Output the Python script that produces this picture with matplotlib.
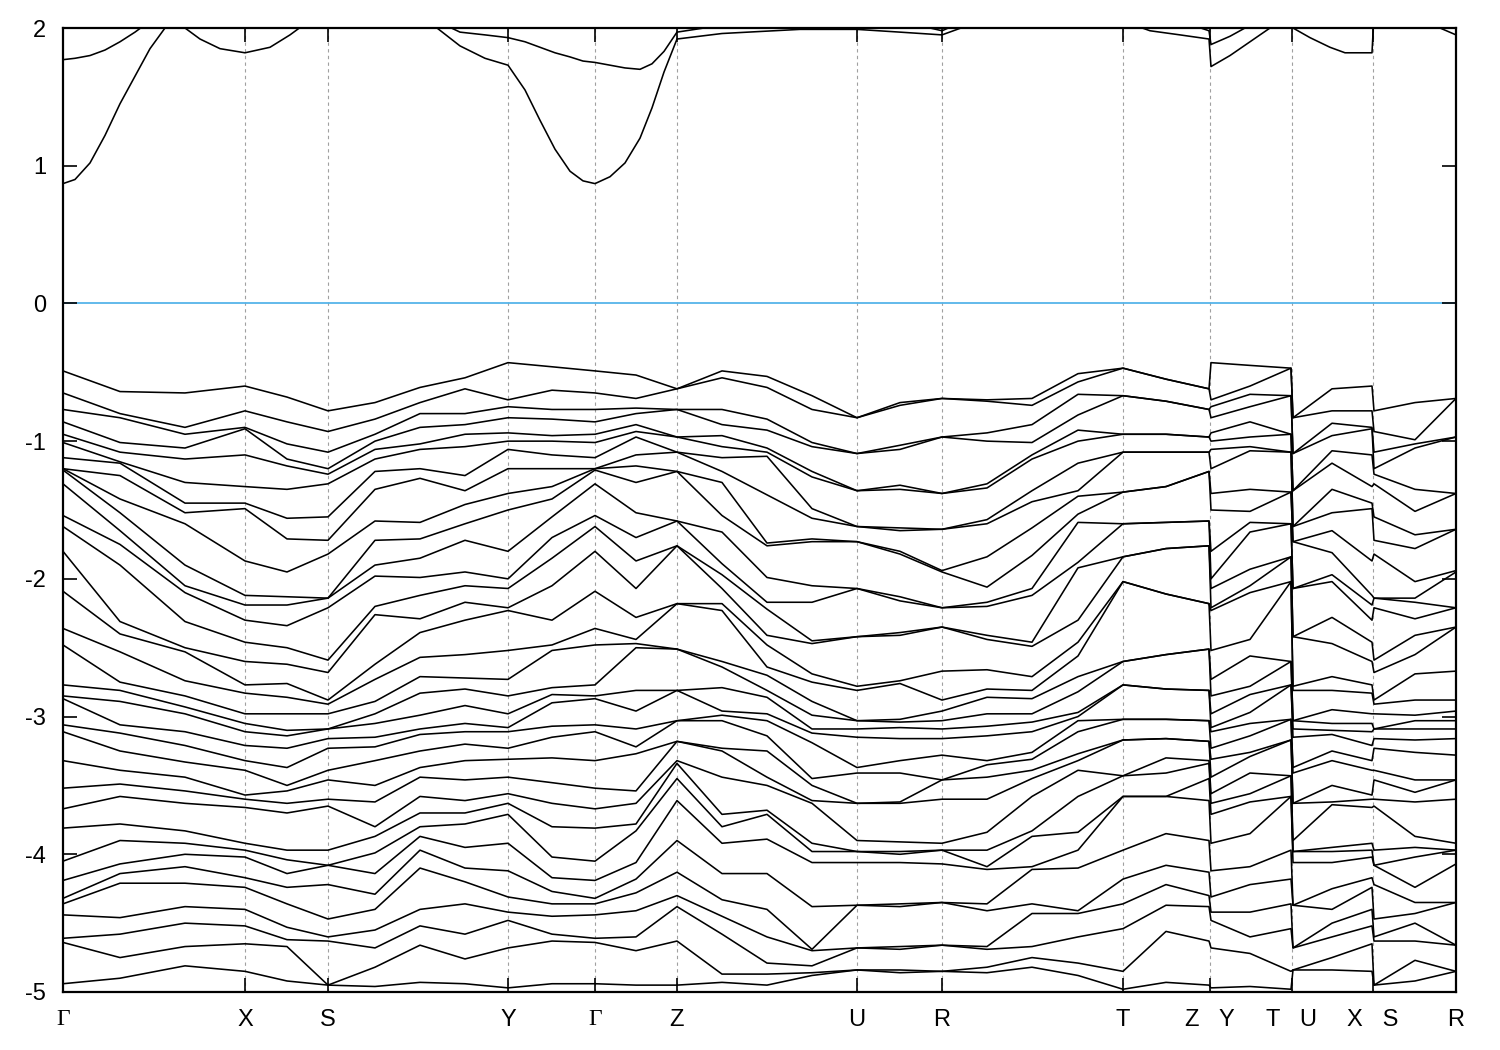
import numpy as np
import matplotlib
matplotlib.use("Agg")
import matplotlib.pyplot as plt

plt.rcParams['font.family'] = ['Liberation Sans', 'DejaVu Sans']
plt.rcParams['axes.unicode_minus'] = False

# high symmetry points along the path (same units as k below)
hs_k = [0, 182, 265, 445, 532, 614, 794, 879, 1060, 1147, 1229, 1310, 1393]
hs_lab = ['Γ', 'X', 'S', 'Y', 'Γ', 'Z', 'U', 'R', 'T', 'Z   Y', 'T   U', 'X   S', 'R']

# valence bands, energies (eV) read at sample points along the path
e_G = [-0.49, -0.65, -0.77, -0.86, -0.95, -1.01, -1.12, -1.20, -1.20, -1.21, -1.31, -1.54, -1.62, -1.80, -2.09, -2.36, -2.48,
       -2.77, -2.85, -2.87, -3.06, -3.11, -3.32, -3.52, -3.67, -3.81, -4.05, -4.19, -4.32, -4.36, -4.44, -4.61, -4.64, -4.94]
e_gx1 = [-0.64, -0.80, -0.83, -1.01, -1.08, -1.15, -1.16, -1.25, -1.42, -1.52, -1.65, -1.75, -1.90, -2.31, -2.40, -2.53,
         -2.75, -2.81, -2.89, -3.06, -3.12, -3.25, -3.39, -3.49, -3.58, -3.78, -3.90, -4.07, -4.14, -4.21, -4.46, -4.58, -4.75, -4.90]
e_gx2 = [-0.65, -0.90, -0.95, -1.05, -1.13, -1.30, -1.45, -1.52, -1.60, -1.90, -2.05, -2.10, -2.31, -2.50, -2.53,
         -2.74, -2.85, -2.93, -2.98, -3.11, -3.21, -3.33, -3.44, -3.54, -3.63, -3.83, -3.92, -4.00, -4.09, -4.21, -4.38, -4.50, -4.67, -4.81]
e_X = [-0.60, -0.78, -0.90, -0.91, -1.10, -1.33, -1.45, -1.49, -1.87, -2.12, -2.19, -2.30, -2.46, -2.60,
       -2.77, -2.83, -2.98, -3.05, -3.11, -3.21, -3.32, -3.39, -3.57, -3.60, -3.66, -3.92, -3.97, -4.02, -4.17, -4.24, -4.40, -4.52, -4.65, -4.85]
e_xs = [-0.68, -0.86, -1.02, -1.13, -1.18, -1.35, -1.56, -1.71, -1.95, -2.13, -2.19, -2.34, -2.50, -2.62,
        -2.76, -2.86, -2.98, -3.10, -3.14, -3.23, -3.37, -3.50, -3.54, -3.63, -3.70, -3.97, -4.04, -4.14, -4.24, -4.36, -4.53, -4.62, -4.67, -4.92]
e_S = [-0.78, -0.93, -1.08, -1.20, -1.24, -1.31, -1.55, -1.72, -1.82, -2.14, -2.14, -2.21, -2.59, -2.68,
       -2.88, -2.91, -2.98, -3.09, -3.09, -3.16, -3.23, -3.39, -3.46, -3.60, -3.65, -3.97, -4.08, -4.08, -4.22, -4.47, -4.60, -4.63, -4.95, -4.95]
e_sy1 = [-0.72, -0.84, -0.95, -1.00, -1.06, -1.13, -1.22, -1.35, -1.58, -1.72, -1.90, -1.98, -2.20, -2.26, -2.62,
         -2.73, -2.89, -2.98, -3.05, -3.15, -3.22, -3.32, -3.50, -3.62, -3.80, -3.87, -3.99, -4.14, -4.29, -4.40, -4.55, -4.68, -4.82, -4.96]
e_sy2 = [-0.61, -0.72, -0.80, -0.90, -1.02, -1.06, -1.20, -1.27, -1.59, -1.71, -1.85, -1.99, -2.12, -2.29, -2.39, -2.57,
         -2.71, -2.83, -2.99, -3.09, -3.13, -3.25, -3.37, -3.44, -3.58, -3.70, -3.80, -3.87, -3.97, -4.10, -4.40, -4.52, -4.66, -4.93]
e_sy3 = [-0.54, -0.62, -0.80, -0.88, -0.95, -1.04, -1.25, -1.36, -1.46, -1.60, -1.72, -1.95, -2.05, -2.17, -2.30, -2.55,
         -2.72, -2.80, -2.92, -3.05, -3.11, -3.20, -3.32, -3.46, -3.61, -3.70, -3.78, -3.95, -4.10, -4.20, -4.36, -4.58, -4.76, -4.94]
e_Y = [-0.43, -0.70, -0.75, -0.83, -0.94, -1.00, -1.06, -1.20, -1.38, -1.50, -1.80, -2.00, -2.07, -2.21, -2.23, -2.52,
       -2.73, -2.85, -2.98, -3.08, -3.11, -3.23, -3.31, -3.44, -3.56, -3.63, -3.71, -3.92, -4.12, -4.31, -4.42, -4.48, -4.68, -4.97]
e_yg = [-0.46, -0.63, -0.77, -0.84, -0.96, -1.00, -1.10, -1.20, -1.33, -1.42, -1.55, -1.70, -1.85, -2.05, -2.30, -2.48, -2.52,
        -2.79, -2.84, -2.90, -3.07, -3.15, -3.30, -3.48, -3.63, -3.80, -4.02, -4.17, -4.27, -4.36, -4.45, -4.58, -4.63, -4.94]
e_gz = [-0.52, -0.69, -0.76, -0.80, -0.88, -0.93, -0.97, -1.10, -1.18, -1.30, -1.52, -1.70, -1.87, -2.07, -2.28, -2.44, -2.47, -2.50,
        -2.81, -2.96, -3.09, -3.22, -3.27, -3.54, -3.63, -3.78, -3.83, -4.06, -4.18, -4.28, -4.41, -4.60, -4.70, -4.95]
e_Z = [-0.62, -0.62, -0.77, -0.77, -0.97, -0.97, -1.08, -1.08, -1.22, -1.22, -1.58, -1.58, -1.76, -1.76, -2.18, -2.18, -2.51, -2.51,
       -2.81, -2.81, -3.03, -3.03, -3.18, -3.18, -3.32, -3.34, -3.45, -3.61, -3.90, -4.13, -4.30, -4.38, -4.63, -4.95]
e_zu1 = [-0.49, -0.54, -0.77, -0.88, -0.96, -1.04, -1.12, -1.22, -1.30, -1.54, -1.66, -1.89, -1.97, -2.07, -2.18, -2.23, -2.60, -2.64,
         -2.79, -2.96, -2.99, -3.03, -3.23, -3.25, -3.44, -3.71, -3.80, -3.92, -4.14, -4.33, -4.45, -4.58, -4.87, -4.93]
e_zu2 = [-0.53, -0.61, -0.84, -0.92, -1.05, -1.08, -1.11, -1.39, -1.74, -1.76, -1.99, -2.17, -2.22, -2.41, -2.48, -2.64,
         -2.70, -2.81, -2.86, -2.98, -3.03, -3.14, -3.25, -3.44, -3.50, -3.68, -3.71, -3.89, -4.14, -4.40, -4.60, -4.79, -4.87, -4.95]
e_zu3 = [-0.67, -0.77, -1.01, -1.04, -1.22, -1.26, -1.49, -1.56, -1.71, -1.73, -2.05, -2.17, -2.45, -2.47,
         -2.69, -2.75, -2.89, -2.99, -3.09, -3.12, -3.19, -3.45, -3.50, -3.61, -3.63, -3.92, -3.98, -4.06, -4.38, -4.69, -4.70, -4.81, -4.86, -4.88]
e_U = [-0.83, -0.83, -1.09, -1.09, -1.36, -1.36, -1.62, -1.62, -1.73, -1.73, -2.07, -2.07, -2.42, -2.42,
       -2.78, -2.81, -3.03, -3.03, -3.09, -3.15, -3.37, -3.41, -3.63, -3.63, -3.90, -3.98, -3.98, -4.06, -4.37, -4.37, -4.68, -4.68, -4.84, -4.84]
e_ur = [-0.72, -0.74, -1.03, -1.06, -1.32, -1.35, -1.63, -1.65, -1.80, -1.82, -2.13, -2.16, -2.39, -2.41,
        -2.74, -2.76, -3.02, -3.04, -3.08, -3.16, -3.32, -3.41, -3.62, -3.63, -3.91, -3.98, -4.00, -4.06, -4.36, -4.38, -4.67, -4.69, -4.84, -4.86]
e_R = [-0.69, -0.69, -0.97, -0.97, -1.38, -1.38, -1.64, -1.64, -1.94, -1.95, -2.21, -2.21, -2.35, -2.35,
       -2.67, -2.88, -2.96, -3.03, -3.09, -3.16, -3.28, -3.46, -3.46, -3.60, -3.92, -3.97, -3.97, -4.07, -4.35, -4.35, -4.66, -4.66, -4.85, -4.85]
e_rt1 = [-0.70, -0.71, -0.94, -1.00, -1.31, -1.34, -1.57, -1.60, -1.84, -2.06, -2.17, -2.20, -2.41, -2.44,
         -2.66, -2.80, -2.86, -2.98, -3.07, -3.14, -3.32, -3.35, -3.44, -3.60, -3.84, -3.97, -4.09, -4.11, -4.36, -4.41, -4.67, -4.69, -4.82, -4.86]
e_rt2 = [-0.69, -0.74, -0.88, -1.01, -1.10, -1.13, -1.36, -1.44, -1.63, -1.83, -2.07, -2.12, -2.46, -2.49,
         -2.71, -2.81, -2.87, -2.98, -3.04, -3.11, -3.26, -3.31, -3.39, -3.45, -3.58, -3.83, -3.87, -4.09, -4.11, -4.36, -4.43, -4.67, -4.75, -4.82]
e_rt3 = [-0.51, -0.57, -0.66, -0.81, -0.92, -1.00, -1.16, -1.36, -1.40, -1.53, -1.59, -1.88, -1.92, -2.30, -2.46, -2.56,
         -2.71, -2.82, -2.97, -3.00, -3.03, -3.11, -3.27, -3.32, -3.39, -3.58, -3.84, -3.97, -4.10, -4.41, -4.43, -4.60, -4.79, -4.88]
e_T = [-0.47, -0.47, -0.67, -0.67, -0.95, -0.95, -1.08, -1.08, -1.37, -1.37, -1.60, -1.60, -1.84, -1.84, -2.02, -2.02, -2.60, -2.60,
       -2.77, -2.77, -3.02, -3.02, -3.17, -3.17, -3.43, -3.43, -3.58, -3.58, -3.97, -4.18, -4.36, -4.54, -4.85, -4.98]
e_tz = [-0.55, -0.55, -0.71, -0.71, -0.95, -0.95, -1.08, -1.08, -1.33, -1.33, -1.59, -1.59, -1.78, -1.78, -2.11, -2.11, -2.55, -2.55,
        -2.80, -2.80, -3.02, -3.02, -3.16, -3.16, -3.30, -3.41, -3.58, -3.58, -3.85, -4.08, -4.22, -4.37, -4.56, -4.93]
e_yt = [-0.45, -0.60, -0.66, -0.75, -0.86, -0.97, -1.04, -1.07, -1.35, -1.51, -1.59, -1.66, -1.93, -2.05, -2.10, -2.44, -2.56,
        -2.78, -2.84, -2.97, -3.05, -3.14, -3.26, -3.29, -3.41, -3.56, -3.62, -3.85, -4.09, -4.22, -4.42, -4.60, -4.72, -4.96]
e_ux = [-0.62, -0.78, -0.87, -0.96, -1.07, -1.16, -1.35, -1.52, -1.65, -1.81, -1.97, -2.02, -2.28, -2.47,
        -2.71, -2.81, -2.95, -3.05, -3.10, -3.13, -3.25, -3.32, -3.50, -3.62, -3.64, -3.95, -3.98, -4.06, -4.25, -4.40, -4.50, -4.60, -4.75, -4.84]
e_sr = [-0.72, -0.99, -1.02, -1.05, -1.35, -1.51, -1.68, -1.78, -2.02, -2.14, -2.17, -2.29, -2.41, -2.55,
        -2.69, -2.88, -2.99, -3.03, -3.09, -3.17, -3.26, -3.46, -3.55, -3.62, -3.87, -3.95, -4.02, -4.24, -4.35, -4.43, -4.50, -4.63, -4.77, -4.92]

k = [0, 57, 122, 182, 224, 265, 312, 357, 402, 445, 489, 532, 573, 614, 659, 704, 749, 794, 837, 879,
     924, 969, 1015, 1060, 1103, 1146, 1148, 1187, 1228, 1230, 1269, 1309, 1311, 1352, 1393]
cols = [e_G, e_gx1, e_gx2, e_X, e_xs, e_S, e_sy1, e_sy2, e_sy3, e_Y, e_yg, e_G, e_gz, e_Z, e_zu1, e_zu2, e_zu3, e_U, e_ur, e_R,
        e_rt1, e_rt2, e_rt3, e_T, e_tz, e_Z, e_Y, e_yt, e_T, e_U, e_ux, e_X, e_S, e_sr, e_R]

# lowest two conduction bands
ck = [0, 12, 27, 42, 57, 72, 87, 102, 112, 122, 137, 157, 182, 207, 227, 242, 265, 357, 374, 397, 422, 445, 462, 477, 492,
      507, 520, 532, 547, 562, 577, 589, 601, 614, 659, 737, 794, 837, 879, 917, 1060, 1087, 1117, 1146, 1148, 1167, 1187,
      1207, 1228, 1230, 1247, 1267, 1282, 1309, 1311, 1377, 1393]
cb1 = [0.87, 0.90, 1.02, 1.22, 1.45, 1.65, 1.85, 2.00, 2.08, 2.00, 1.92, 1.85, 1.82, 1.86, 1.95, 2.03, 2.15, 2.10, 2.00, 1.87,
       1.78, 1.73, 1.55, 1.33, 1.12, 0.96, 0.89, 0.87, 0.92, 1.02, 1.20, 1.42, 1.68, 1.92, 1.96, 1.99, 1.99, 1.97, 1.95, 2.05,
       2.05, 1.98, 1.95, 1.92, 1.72, 1.80, 1.90, 2.00, 2.10, 2.00, 1.93, 1.86, 1.82, 1.82, 2.10, 2.00, 1.95]
cb2 = [1.77, 1.78, 1.80, 1.84, 1.90, 1.97, 2.05, 2.12, 2.16, 2.20, 2.30, 2.30, 2.30, 2.30, 2.30, 2.30, 2.40, 2.20, 2.05, 1.97,
       1.95, 1.93, 1.90, 1.86, 1.82, 1.79, 1.76, 1.75, 1.73, 1.71, 1.70, 1.74, 1.83, 1.97, 2.02, 2.05, 2.05, 2.05, 1.98, 2.10,
       2.20, 2.10, 2.05, 1.98, 1.88, 1.94, 2.02, 2.10, 2.20, 2.20, 2.20, 2.20, 2.20, 2.20, 2.20, 2.10, 2.05]

for c in cols:
    if len(c) != 34:
        raise ValueError("column length %d" % len(c))

vb = np.array([sorted(c, reverse=True) for c in cols])

fig = plt.figure(figsize=(15, 10.5), dpi=100)
ax = fig.add_axes([63/1500, 1 - 992/1050, (1456 - 63)/1500, (992 - 28)/1050])

for kk in hs_k[1:-1]:
    ax.axvline(kk, color='#a0a0a0', lw=0.8, ls=(0, (3, 3)), zorder=0)
ax.axhline(0, color='#56b4e9', lw=1.3, zorder=1)

for i in range(vb.shape[1]):
    ax.plot(k, vb[:, i], color='black', lw=1.15, zorder=2)
ax.plot(ck, cb1, color='black', lw=1.15, zorder=2)
ax.plot(ck, cb2, color='black', lw=1.15, zorder=2)

ax.set_xlim(0, 1393)
ax.set_ylim(-5, 2)
ax.set_yticks(range(-5, 3))
ax.set_xticks(hs_k)
ax.set_xticklabels(hs_lab)
for lab in ax.get_xticklabels():
    if lab.get_text() == 'Γ':
        lab.set_fontfamily(['Liberation Serif', 'DejaVu Serif'])
ax.tick_params(axis='both', direction='in', length=10, width=1.2, top=True, right=True, labelsize=17)
ax.tick_params(axis='x', pad=12)
ax.tick_params(axis='y', pad=12)
for sp in ax.spines.values():
    sp.set_linewidth(1.6)

fig.savefig('out.png', dpi=100)
